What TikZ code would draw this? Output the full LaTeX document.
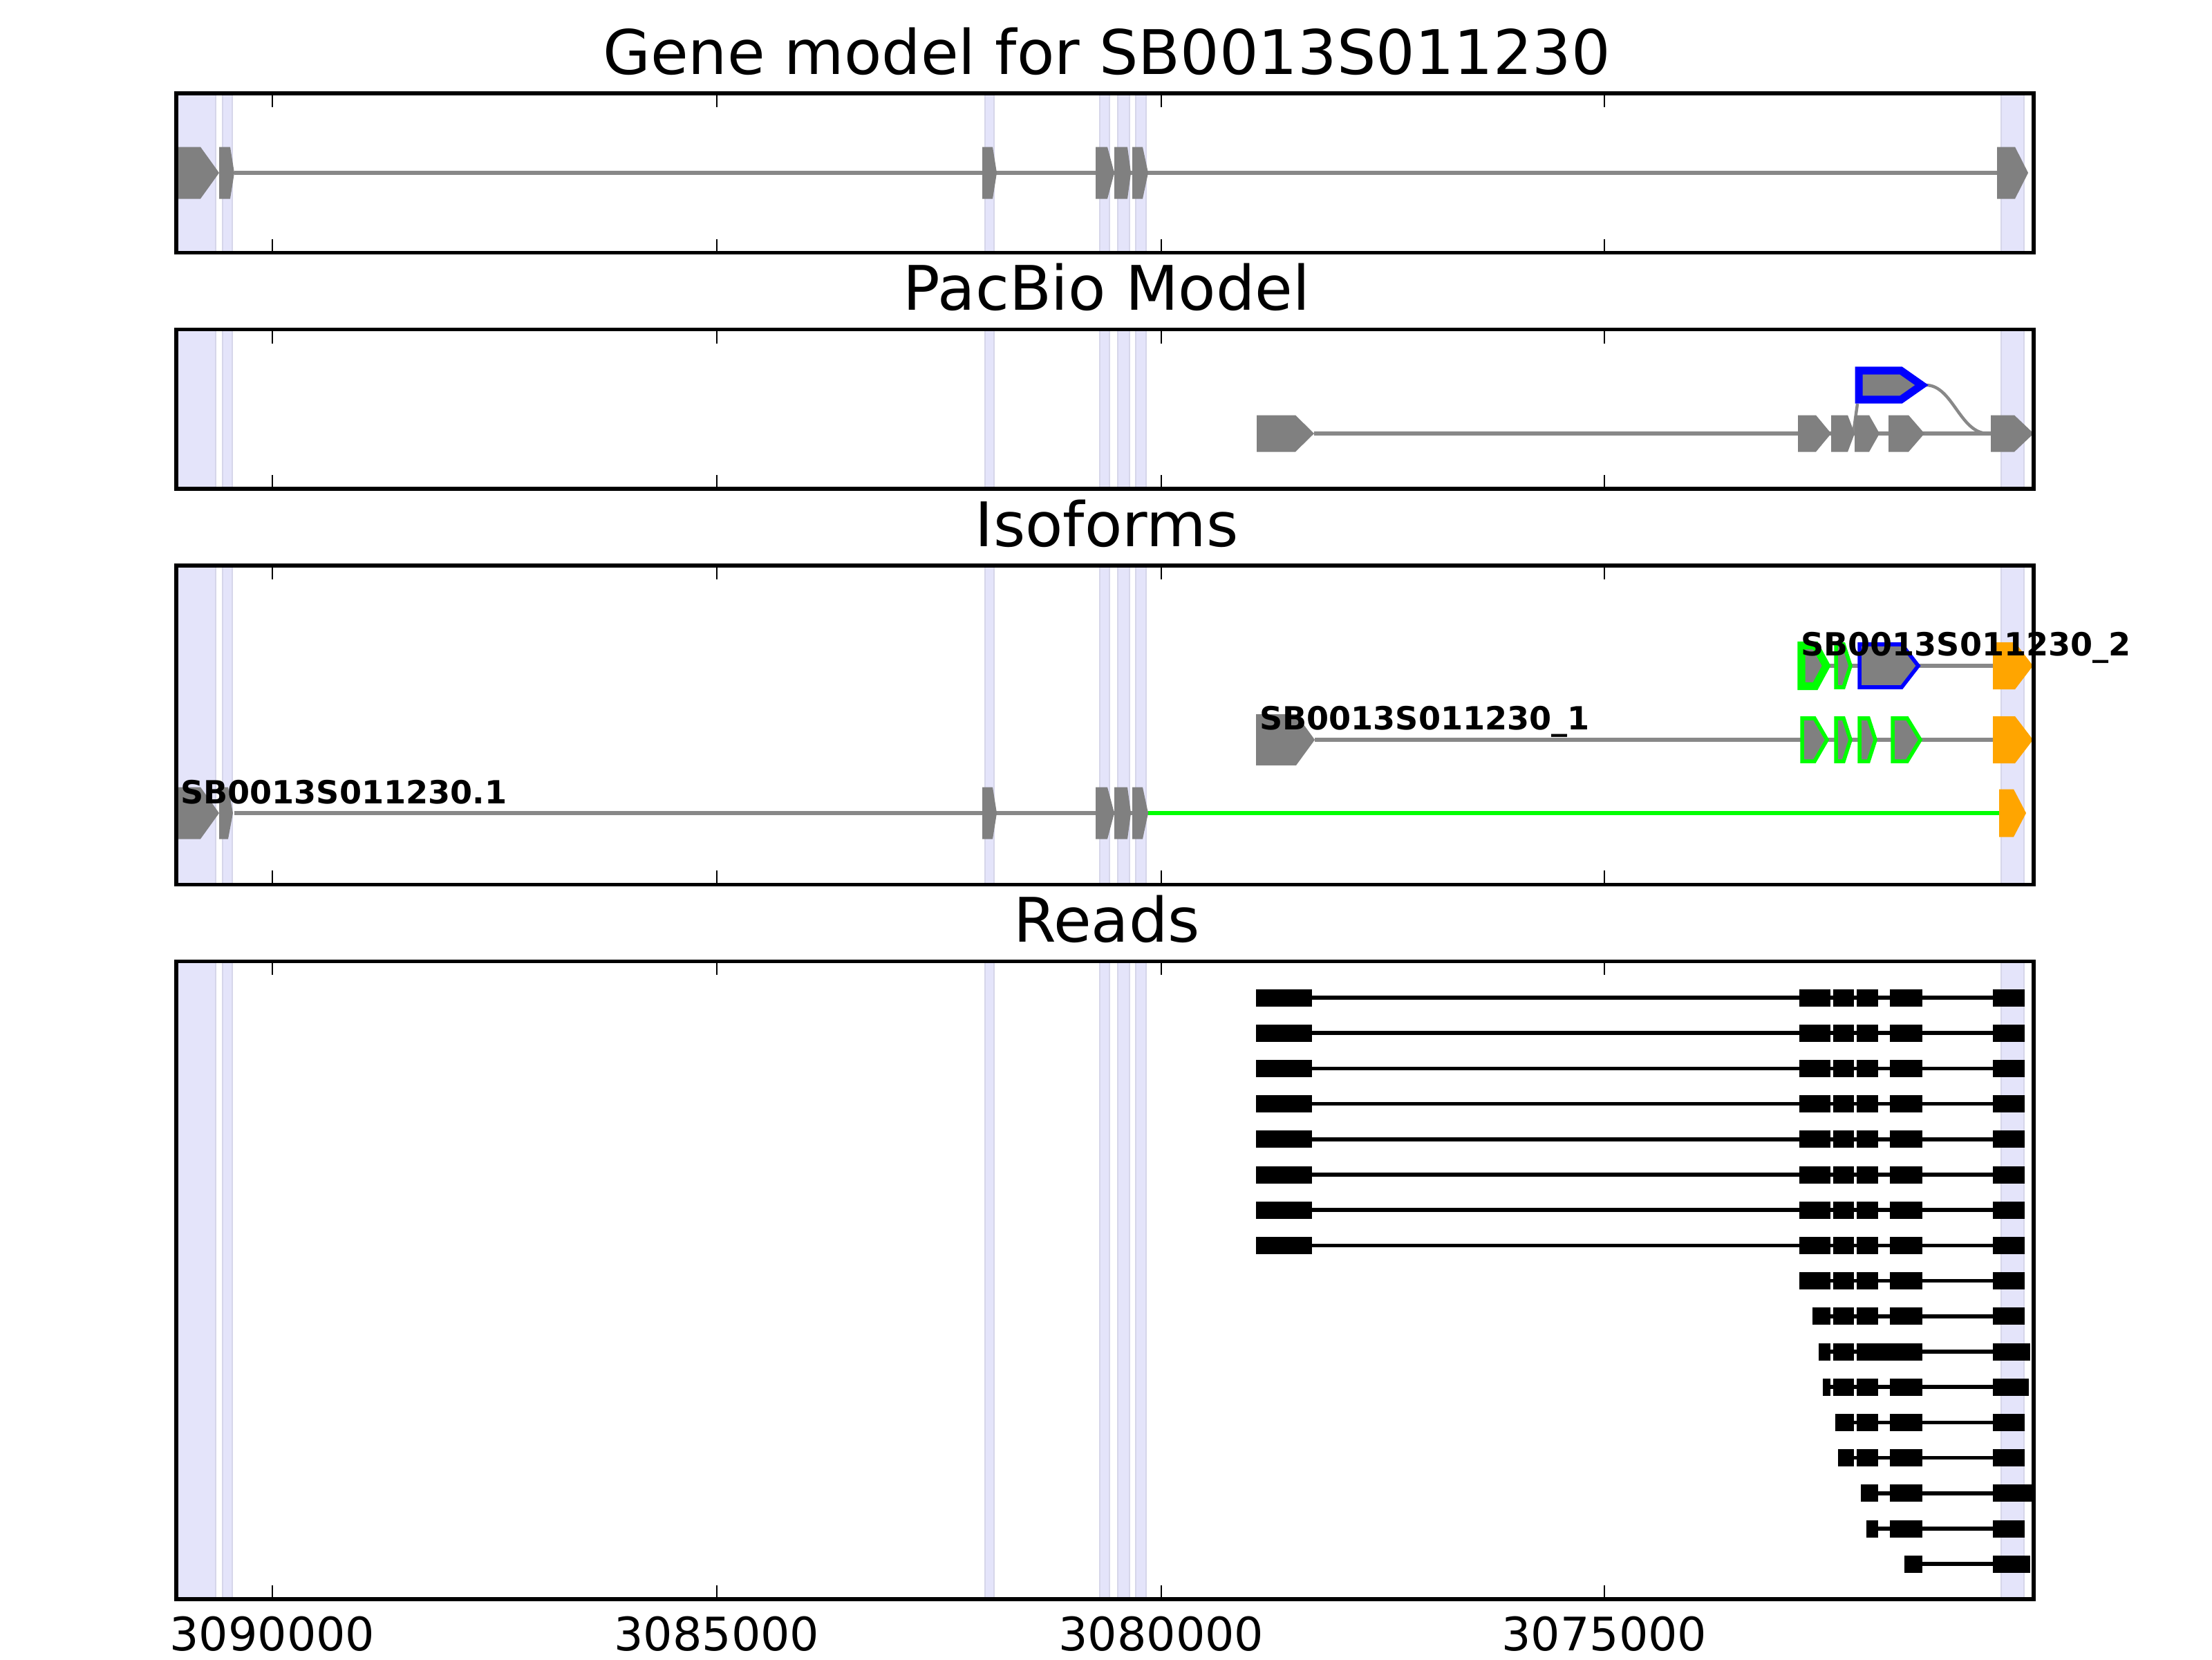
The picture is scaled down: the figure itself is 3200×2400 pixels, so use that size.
\documentclass[tikz,border=0pt]{standalone}
\usepackage{fontspec}
\setmainfont{DejaVu Sans}
\usepackage{tikz}
\usepackage{xcolor}
\usetikzlibrary{
    calc,
    positioning
}

\definecolor{exongray}{RGB}{128,128,128}
\definecolor{introngray}{RGB}{136,136,136}
\definecolor{bandfill}{RGB}{228,228,250}
\definecolor{bandedge}{RGB}{214,214,234}
\definecolor{isogreen}{RGB}{0,255,0}
\definecolor{isoorange}{RGB}{255,165,0}
\definecolor{isoblue}{RGB}{0,0,255}

\tikzset{
    panel/.style={draw=black, line width=1pt},
    band/.style={fill=bandfill, draw=bandedge, line width=0.3pt},
    intron/.style={draw=introngray, line width=1pt},
    exon/.style={fill=exongray},
    greenexon/.style={fill=exongray, draw=isogreen, line width=1pt},
    blueexon/.style={fill=exongray, draw=isoblue, line width=1pt},
    orangeexon/.style={fill=isoorange},
    tickmark/.style={line width=0.5pt},
    readline/.style={line width=1pt},
    paneltitle/.style={font=\fontsize{16}{19}\selectfont, anchor=base, inner sep=0pt},
    ticklabel/.style={font=\fontsize{12}{14}\selectfont, anchor=base, inner sep=0pt},
    isolabel/.style={font=\bfseries\fontsize{8.3}{10}\selectfont, anchor=base west, inner sep=0pt}
}

\newcommand{\exonshape}[6][exon]{\path[#1] (#2,#5-#6) -- (#3,#5-#6) -- (#4,#5) -- (#3,#5+#6) -- (#2,#5+#6) -- cycle;}
\newcommand{\readrow}[4]{%
    \draw[readline] (#2,{1443+51.2*#1}) -- (#3,{1443+51.2*#1});
    \foreach \a/\b in {#4} {\fill (\a,{1443+51.2*#1-12.5}) rectangle (\b,{1443+51.2*#1+12.5});}
}

\begin{document}
\begin{tikzpicture}[x=0.18pt, y=-0.18pt]
                        \useasboundingbox (0,0) rectangle (3200,2400);

                        \foreach \t/\b in {135/365.6, 476.6/707.2, 818.2/1279.4, 1390.4/2313}
                            \foreach \l/\r in {256/312, 322/336, 1425/1438, 1591/1605, 1617/1634, 1643/1658, 2895/2928}
                                \path[band] (\l,\t) rectangle (\r,\b);

                        \node[paneltitle] (ttlgene) at (1601,107) {Gene model for SB0013S011230};
                        \node[paneltitle] (ttlpacbio) at (1601,448.8) {PacBio Model};
                        \node[paneltitle] (ttliso) at (1601,790.4) {Isoforms};
                        \node[paneltitle] (ttlreads) at (1601,1362.6) {Reads};

                        \draw[intron] (339,250) -- (2889,250);
                        \foreach \a/\s/\p in {257/290/317, 317/333/339, 1421/1436/1442, 1585/1602/1612, 1612/1631/1636, 1638/1653/1661, 2889/2915/2934}
                            {\exonshape{\a}{\s}{\p}{250}{37.5}}

                        \coordinate (pbstart) at (2687,584);
                        \coordinate (pbjoin) at (2681,627);
                        \coordinate (pbtip) at (2786,557);
                        \coordinate (pbend) at (2876,627);
                        \draw[intron] (1901,627) -- (2880,627);
                        \draw[intron, line width=0.8pt] (pbstart) -- (pbjoin);
                        \draw[intron, line width=0.8pt] (pbtip) .. controls (2825,557) and (2835,627) .. (pbend);
                        \foreach \a/\s/\p in {1818/1874/1901, 2601/2627/2649, 2649/2673/2683, 2683/2704/2719, 2732/2761/2784, 2880/2914/2942}
                            {\exonshape{\a}{\s}{\p}{627}{26.5}}
                        \exonshape[blueexon, line width=2pt]{2689}{2750}{2780}{557}{21}

                        \draw[intron] (2645,963) -- (2883,963);
                        \exonshape[greenexon, line width=2pt]{2606}{2626}{2642}{963}{29.5}
                        \exonshape[greenexon]{2656}{2667}{2677}{963}{31}
                        \exonshape[blueexon]{2690}{2751}{2775}{963}{31}
                        \exonshape[orangeexon]{2883}{2915}{2941}{963}{34}
                        \node[isolabel] (isotwo) at (2604,948) {SB0013S011230\_2};

                        \draw[intron] (1902,1070) -- (2883,1070);
                        \exonshape{1817}{1875}{1902}{1070}{37}
                        \foreach \a/\s/\p in {2607/2625/2643, 2656/2667/2677, 2690/2703/2713, 2738/2759/2778}
                            {\exonshape[greenexon]{\a}{\s}{\p}{1070}{31}}
                        \exonshape[orangeexon]{2883}{2915}{2941}{1070}{34}
                        \node[isolabel] (isoone) at (1821,1055) {SB0013S011230\_1};

                        \draw[intron] (339,1176) -- (1661,1176);
                        \draw[intron, draw=isogreen] (1661,1176) -- (2892,1176);
                        \foreach \a/\s/\p in {257/290/317, 317/330/337, 1421/1436/1442, 1585/1602/1612, 1612/1631/1636, 1638/1653/1661}
                            {\exonshape{\a}{\s}{\p}{1176}{37.5}}
                        \exonshape[orangeexon]{2892}{2913}{2931}{1176}{34.5}
                        \node[isolabel] (isoref) at (260,1162) {SB0013S011230.1};

                        \foreach \r in {0,...,7}
                            {\readrow{\r}{1817}{2929}{1817/1898, 2603/2648, 2652/2682, 2686/2717, 2734/2781, 2883/2929}}
                        \readrow{8}{2603}{2929}{2603/2648, 2652/2682, 2686/2717, 2734/2781, 2883/2929}
                        \readrow{9}{2622}{2929}{2622/2648, 2652/2682, 2686/2717, 2734/2781, 2883/2929}
                        \readrow{10}{2631}{2937}{2631/2648, 2652/2682, 2686/2781, 2883/2937}
                        \readrow{11}{2637}{2935}{2637/2648, 2652/2682, 2686/2717, 2734/2781, 2883/2935}
                        \readrow{12}{2655}{2929}{2655/2682, 2686/2717, 2734/2781, 2883/2929}
                        \readrow{13}{2659}{2929}{2659/2682, 2686/2717, 2734/2781, 2883/2929}
                        \readrow{14}{2692}{2942}{2692/2717, 2734/2781, 2883/2942}
                        \readrow{15}{2700}{2929}{2700/2717, 2734/2781, 2883/2929}
                        \readrow{16}{2755}{2937}{2755/2781, 2883/2937}

                        \foreach \t/\b in {135/365.6, 476.6/707.2, 818.2/1279.4, 1390.4/2313} {
                            \draw[panel] (255,\t) rectangle (2942,\b);
                            \foreach \x in {394, 1037, 1680, 2321} {
                                \draw[tickmark] (\x,\t) -- ++(0,20);
                                \draw[tickmark] (\x,\b) -- ++(0,-20);
                            }
                        }

                        \foreach \x/\v in {394/3090000, 1037/3085000, 1680/3080000, 2321/3075000}
                            \node[ticklabel] (tick\v) at (\x,2387) {\v};
                    \end{tikzpicture}
\end{document}
